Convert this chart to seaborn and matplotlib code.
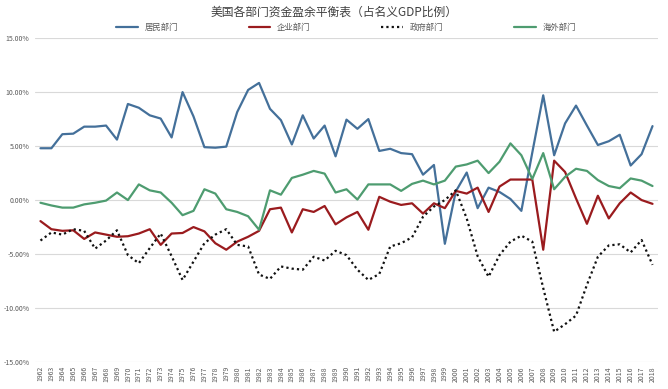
import numpy as np
import seaborn as sns
import matplotlib.pyplot as plt
from matplotlib.ticker import FuncFormatter

years = list(range(1962, 2019))

household = [4.8, 4.8, 6.1, 6.15, 6.8, 6.8, 6.9, 5.6, 8.9, 8.55,
             7.85, 7.55, 5.8, 10.0, 7.75, 4.9, 4.85, 4.95, 8.15, 10.2,
             10.85, 8.45, 7.4, 5.15, 7.85, 5.7, 6.9, 4.05, 7.45, 6.6,
             7.5, 4.55, 4.75, 4.35, 4.25, 2.35, 3.25, -4.05, 0.8, 2.55,
             -0.75, 1.15, 0.75, 0.1, -1.0, 4.4, 9.7, 4.15, 7.1, 8.75,
             6.9, 5.1, 5.45, 6.05, 3.2, 4.25, 6.85]

corporate = [-1.95, -2.7, -2.85, -2.8, -3.6, -3.0, -3.2, -3.4, -3.35, -3.1,
             -2.7, -4.15, -3.1, -3.05, -2.5, -2.9, -4.0, -4.6, -3.85, -3.4,
             -2.85, -0.85, -0.7, -3.0, -0.85, -1.1, -0.55, -2.25, -1.6, -1.1,
             -2.75, 0.3, -0.15, -0.45, -0.3, -1.25, -0.3, -0.75, 0.85, 0.6,
             1.15, -1.1, 1.25, 1.9, 1.9, 1.9, -4.6, 3.65, 2.6, 0.15,
             -2.2, 0.4, -1.7, -0.3, 0.7, 0.0, -0.35]

government = [-3.75, -3.0, -3.2, -2.7, -2.85, -4.5, -3.75, -2.8, -5.1, -5.85,
              -4.45, -3.1, -5.2, -7.4, -5.7, -4.0, -3.2, -2.7, -4.15, -4.3,
              -6.9, -7.3, -6.15, -6.35, -6.45, -5.25, -5.6, -4.7, -5.1, -6.45,
              -7.4, -6.85, -4.3, -4.0, -3.45, -1.55, -0.6, 0.0, 0.9, -1.7,
              -5.2, -7.1, -5.1, -3.85, -3.3, -3.85, -8.15, -12.2, -11.5, -10.7,
              -7.85, -5.25, -4.2, -4.1, -4.85, -3.7, -6.0]

foreign = [-0.25, -0.5, -0.7, -0.7, -0.4, -0.25, -0.05, 0.7, 0.0, 1.45,
           0.9, 0.7, -0.25, -1.4, -1.0, 1.0, 0.6, -0.85, -1.1, -1.5,
           -2.75, 0.9, 0.5, 2.05, 2.35, 2.7, 2.45, 0.7, 1.0, 0.05,
           1.45, 1.45, 1.45, 0.85, 1.5, 1.8, 1.45, 1.8, 3.1, 3.3,
           3.65, 2.5, 3.55, 5.25, 4.15, 1.95, 4.35, 1.0, 2.15, 2.9,
           2.7, 1.85, 1.3, 1.1, 2.0, 1.8, 1.3]

names = ['居民部门', '企业部门', '政府部门', '海外部门']

sns.set_theme(style='white')
plt.rcParams['font.family'] = ['Noto Sans CJK SC', 'DejaVu Sans']

fig = plt.figure(figsize=(6.68, 3.89), dpi=100)
ax = fig.add_axes([0.0524, 0.0694, 0.9326, 0.8326])

idx = np.arange(len(years))
sns.lineplot(x=idx, y=household, color='#44709A', linewidth=1.6, label=names[0], ax=ax)
sns.lineplot(x=idx, y=corporate, color='#9A1B1E', linewidth=1.6, label=names[1], ax=ax)
sns.lineplot(x=idx, y=government, color='#111111', linewidth=1.6, linestyle=(0, (1, 1.4)),
             label=names[2], ax=ax)
sns.lineplot(x=idx, y=foreign, color='#4E9C70', linewidth=1.6, label=names[3], ax=ax)

ax.set_xlim(-0.5, len(years) - 0.5)
ax.set_ylim(-15, 15)
ax.set_yticks(range(-15, 16, 5))
ax.yaxis.set_major_formatter(FuncFormatter(lambda v, p: '%.2f%%' % v))
ax.set_xticks(idx)
ax.set_xticklabels([str(y) for y in years], rotation=90)
ax.yaxis.grid(True, color='#D9D9D9', linewidth=0.8)
ax.xaxis.grid(False)
for s in ax.spines.values():
    s.set_visible(False)
ax.tick_params(axis='both', labelsize=5, colors='#595959', length=0)
ax.tick_params(axis='y', pad=4)
ax.tick_params(axis='x', pad=3)

handles, labels = ax.get_legend_handles_labels()
ax.get_legend().remove()
leg = fig.legend(handles, labels, loc='center', bbox_to_anchor=(0.518, 0.93), ncol=4,
                 frameon=False, fontsize=6, handlelength=2.6, columnspacing=8.5)
for t in leg.get_texts():
    t.set_color('#595959')

fig.text(0.5, 0.969, '美国各部门资金盈余平衡表（占名义GDP比例）', ha='center', va='center',
         fontsize=8.5, color='#404040')

fig.savefig('out.png', dpi=100)
